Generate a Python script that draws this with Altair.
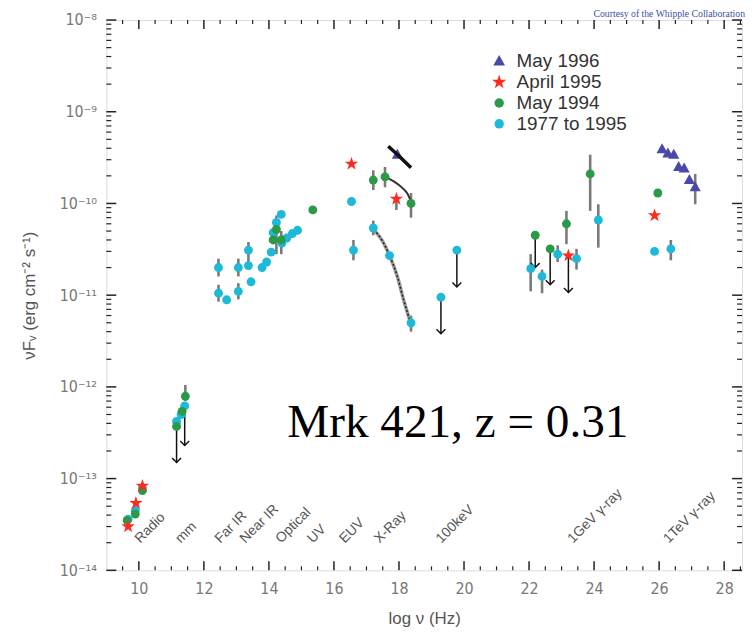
import altair as alt
import pandas as pd

# ---------------- data ----------------
series_order = ["May 1996", "April 1995", "May 1994", "1977 to 1995"]

may96_x = [17.95, 26.09, 26.27, 26.45, 26.60, 26.77, 26.93, 27.11]
may96_y = [3.4e-10, 3.9e-10, 3.5e-10, 3.4e-10, 2.5e-10, 2.4e-10, 1.8e-10, 1.5e-10]

apr95_x = [9.67, 9.91, 10.11, 16.54, 17.92, 23.21, 25.86]
apr95_y = [3.0e-14, 5.4e-14, 8.3e-14, 2.7e-10, 1.12e-10, 2.7e-11, 7.4e-11]

may94_x = [9.64, 9.89, 10.11, 11.16, 11.33, 11.43, 14.13, 14.23, 14.38, 15.35,
           17.21, 17.57, 18.37, 22.19, 22.65, 23.15, 23.88, 25.96]
may94_y = [3.5e-14, 4.1e-14, 7.4e-14, 3.7e-13, 5.4e-13, 7.9e-13, 4.0e-11, 5.2e-11, 4.0e-11, 8.5e-11,
           1.8e-10, 1.95e-10, 1.0e-10, 4.5e-11, 3.2e-11, 6.0e-11, 2.1e-10, 1.3e-10]

hist_x = [9.67, 9.89, 10.11, 11.16, 11.30, 11.41, 12.45, 12.45, 12.70, 13.06, 13.06,
          13.37, 13.37, 13.45, 13.79, 13.93, 14.07, 14.13, 14.23, 14.38, 14.40, 14.55,
          14.72, 14.88, 16.54, 16.60, 17.21, 17.71, 18.37, 19.29, 19.78, 22.05, 22.40,
          22.88, 23.46, 24.13, 25.86, 26.36]
hist_y = [3.6e-14, 4.5e-14, 7.9e-14, 4.2e-13, 5.0e-13, 6.2e-13, 2.0e-11, 1.05e-11, 8.9e-12, 2.0e-11, 1.1e-11,
          3.1e-11, 2.1e-11, 1.4e-11, 2.0e-11, 2.3e-11, 2.95e-11, 4.8e-11, 6.2e-11, 7.6e-11, 3.7e-11, 4.2e-11,
          4.7e-11, 5.1e-11, 1.05e-10, 3.1e-11, 5.4e-11, 2.7e-11, 5.0e-12, 9.5e-12, 3.1e-11, 1.95e-11, 1.6e-11,
          2.8e-11, 2.5e-11, 6.6e-11, 3.0e-11, 3.2e-11]

# error bars: x, low, high
err_x = [12.45, 12.45, 13.06, 13.06, 13.37, 14.23, 14.38, 11.43, 16.60, 17.21, 17.57, 18.37,
         17.92, 17.21, 18.37, 22.05, 22.40, 22.88, 23.15, 23.46, 23.88, 24.13, 26.36, 27.11]
err_lo = [1.6e-11, 8.5e-12, 1.6e-11, 9.0e-12, 1.9e-11, 2.8e-11, 2.8e-11, 7.0e-13, 2.4e-11, 1.4e-10, 1.5e-10, 7.0e-11,
          8.5e-11, 4.5e-11, 4.0e-12, 1.1e-11, 1.05e-11, 2.3e-11, 3.6e-11, 1.9e-11, 8.3e-11, 3.3e-11, 2.4e-11, 9.8e-11]
err_hi = [2.5e-11, 1.3e-11, 2.5e-11, 1.35e-11, 3.8e-11, 7.4e-11, 5.0e-11, 1.05e-12, 4.0e-11, 2.3e-10, 2.5e-10, 1.3e-10,
          1.2e-10, 6.5e-11, 6.0e-12, 2.8e-11, 1.9e-11, 3.5e-11, 8.3e-11, 3.2e-11, 3.4e-10, 9.8e-11, 4.0e-11, 2.1e-10]

# upper limits: x, value, arrow tip
ul_x = [11.16, 11.41, 19.29, 19.78, 22.19, 22.65, 23.21]
ul_from = [3.7e-13, 6.2e-13, 9.5e-12, 3.1e-11, 4.5e-11, 3.2e-11, 2.7e-11]
ul_to = [1.5e-13, 2.3e-13, 3.8e-12, 1.23e-11, 2.0e-11, 1.3e-11, 1.07e-11]

# X-ray spectral fits
fit96_x = [17.67, 18.00, 18.37]
fit96_y = [4.2e-10, 3.3e-10, 2.45e-10]
fit94_x = [17.57, 17.84, 18.10, 18.27, 18.37]
fit94_y = [1.95e-10, 1.74e-10, 1.48e-10, 1.26e-10, 1.05e-10]
fith_x = [17.23, 17.49, 17.71, 17.95, 18.15, 18.35]
fith_y = [5.2e-11, 3.9e-11, 2.7e-11, 1.6e-11, 8.7e-12, 5.1e-12]

# band labels
band_labels = ["Radio", "mm", "Far IR", "Near IR", "Optical", "UV", "EUV", "X-Ray",
               "100keV", "1GeV \u03b3-ray", "1TeV \u03b3-ray"]
band_x = [10.04, 11.29, 12.5, 13.27, 14.37, 15.35, 16.33, 17.4, 19.3, 23.35, 26.3]
band_y = 1.95e-14

# axis ticks
x_major = list(range(10, 29, 2))
x_minor = [v / 2 for v in range(19, 58) if v % 4 != 0]
y_major = [10.0 ** k for k in range(-14, -7)]
y_minor = [m * 10.0 ** k for k in range(-14, -8) for m in range(2, 10)]

# ---------------- build ----------------
W, H = 640, 554
FONT = "Liberation Sans"
NARROW = "Liberation Sans Narrow, DejaVu Sans Condensed, Liberation Sans"

xscale = alt.Scale(domain=[9, 28.55], nice=False, zero=False)
yscale = alt.Scale(type="log", domain=[1e-14, 1e-8], nice=False)

xaxis = alt.Axis(values=x_major, ticks=False, tickSize=0, domain=False, grid=False,
                 labelFont=NARROW, labelFontSize=16, labelColor="#777", labelPadding=10,
                 titleFont=FONT, titleFontSize=17, titleFontWeight="normal", titleColor="#555",
                 titleY=49, titleBaseline="middle")
ylab = ("datum.value < 5e-14 ? '10\u207b\u00b9\u2074' : datum.value < 5e-13 ? '10\u207b\u00b9\u00b3' : "
        "datum.value < 5e-12 ? '10\u207b\u00b9\u00b2' : datum.value < 5e-11 ? '10\u207b\u00b9\u00b9' : "
        "datum.value < 5e-10 ? '10\u207b\u00b9\u2070' : datum.value < 5e-9 ? '10\u207b\u2079' : '10\u207b\u2078'")
yaxis = alt.Axis(values=y_major, ticks=False, tickSize=0, domain=False, grid=False,
                 labelExpr=ylab, labelFont=NARROW, labelFontSize=16, labelColor="#777", labelPadding=10,
                 titleFont=FONT, titleFontSize=17, titleFontWeight="normal", titleColor="#555",
                 titleAngle=270, titleX=-77, titleY=H / 2, titleAlign="center", titleBaseline="middle")

X = alt.X("x:Q", scale=xscale, axis=xaxis, title="log \u03bd (Hz)")
Y = alt.Y("y:Q", scale=yscale, axis=yaxis, title="\u03bdF\u1d65 (erg cm\u207b\u00b2 s\u207b\u00b9)")

STAR = ("M0,-1.6L0.359,-0.494L1.522,-0.494L0.581,0.189L0.941,1.294L0,0.611"
        "L-0.941,1.294L-0.581,0.189L-1.522,-0.494L-0.359,-0.494Z")
TRI = "M0,-1.35L1.25,0.9L-1.25,0.9Z"

rows = []
for name, xs, ys in [("1977 to 1995", hist_x, hist_y), ("May 1994", may94_x, may94_y),
                     ("April 1995", apr95_x, apr95_y), ("May 1996", may96_x, may96_y)]:
    for a, b in zip(xs, ys):
        rows.append({"series": name, "x": a, "y": b})
pts = pd.DataFrame(rows)

leg = alt.Legend(title=None, orient="none", legendX=386, legendY=32, labelFont=FONT,
                 labelFontSize=19, labelColor="#333", rowPadding=1, labelOffset=8, padding=0,
                 symbolSize=90, symbolStrokeWidth=0)

points = alt.Chart(pts).mark_point(filled=True, opacity=1, size=80, strokeWidth=0).encode(
    x=X, y=Y,
    color=alt.Color("series:N", scale=alt.Scale(domain=series_order,
                    range=["#4b48a8", "#ff2a1e", "#2a9a48", "#1db9d9"]), legend=leg),
    shape=alt.Shape("series:N", scale=alt.Scale(domain=series_order,
                    range=[TRI, STAR, "circle", "circle"]), legend=leg),
)

errs = alt.Chart(pd.DataFrame({"x": err_x, "y": err_lo, "y2": err_hi})).mark_rule(
    color="#7a7a7a", strokeWidth=2.6).encode(x=X, y=Y, y2="y2:Q")

ul_df = pd.DataFrame({"x": ul_x, "y": ul_from, "y2": ul_to})
ul_lines = alt.Chart(ul_df).mark_rule(color="#111", strokeWidth=1.5).encode(x=X, y=Y, y2="y2:Q")
ul_heads = alt.Chart(pd.DataFrame({"x": ul_x, "y": ul_to})).mark_point(
    shape="M-1,-1L0,0L1,-1", filled=False, color="#111", strokeWidth=1.5, size=80, opacity=1
).encode(x=X, y=Y)

fit96 = alt.Chart(pd.DataFrame({"x": fit96_x, "y": fit96_y})).mark_line(
    color="#111", strokeWidth=3.5).encode(x=X, y=Y)
fit94 = alt.Chart(pd.DataFrame({"x": fit94_x, "y": fit94_y})).mark_line(
    color="#333", strokeWidth=2, interpolate="monotone").encode(x=X, y=Y)
fith_a = alt.Chart(pd.DataFrame({"x": fith_x, "y": fith_y})).mark_line(
    color="#999", strokeWidth=3.5, interpolate="monotone").encode(x=X, y=Y)
fith_b = alt.Chart(pd.DataFrame({"x": fith_x, "y": fith_y})).mark_line(
    color="#222", strokeWidth=1.5, strokeDash=[2, 2], interpolate="monotone").encode(x=X, y=Y)

bands = alt.Chart(pd.DataFrame({"x": band_x, "y": [band_y] * len(band_x), "t": band_labels})).mark_text(
    angle=315, align="left", baseline="alphabetic", font=FONT, fontSize=14, color="#555"
).encode(x=X, y=Y, text="t:N")

title_txt = alt.Chart(pd.DataFrame({"x": [19.81], "y": [2.82e-13], "t": ["Mrk 421, z = 0.31"]})).mark_text(
    align="center", baseline="alphabetic", font="Liberation Serif", fontSize=47.5, color="#000"
).encode(x=X, y=Y, text="t:N")

courtesy = alt.Chart(pd.DataFrame({"t": ["Courtesy of the Whipple Collaboration"]})).mark_text(
    align="right", baseline="middle", font="Liberation Serif", fontSize=9.8, color="#3a4fa5"
).encode(x=alt.value(W + 3), y=alt.value(-6), text="t:N")

TK = "#222"
tick_layers = [
    alt.Chart(pd.DataFrame({"x": x_major})).mark_rule(color=TK, strokeWidth=1.5).encode(
        x=X, y=alt.value(H), y2=alt.value(H - 9)),
    alt.Chart(pd.DataFrame({"x": x_minor})).mark_rule(color=TK, strokeWidth=1.2).encode(
        x=X, y=alt.value(H), y2=alt.value(H - 4)),
    alt.Chart(pd.DataFrame({"x": x_major})).mark_rule(color=TK, strokeWidth=1.5).encode(
        x=X, y=alt.value(0), y2=alt.value(9)),
    alt.Chart(pd.DataFrame({"x": x_minor})).mark_rule(color=TK, strokeWidth=1.2).encode(
        x=X, y=alt.value(0), y2=alt.value(4)),
    alt.Chart(pd.DataFrame({"y": y_major})).mark_rule(color=TK, strokeWidth=1.5).encode(
        y=Y, x=alt.value(0), x2=alt.value(10)),
    alt.Chart(pd.DataFrame({"y": y_minor})).mark_rule(color=TK, strokeWidth=1.2).encode(
        y=Y, x=alt.value(0), x2=alt.value(5)),
    alt.Chart(pd.DataFrame({"y": y_major})).mark_rule(color=TK, strokeWidth=1.5).encode(
        y=Y, x=alt.value(W), x2=alt.value(W - 10)),
    alt.Chart(pd.DataFrame({"y": y_minor})).mark_rule(color=TK, strokeWidth=1.2).encode(
        y=Y, x=alt.value(W), x2=alt.value(W - 5)),
]

chart = alt.layer(
    *tick_layers, errs, fith_a, fith_b, fit94, ul_lines, ul_heads, points, fit96,
    bands, title_txt, courtesy
).properties(
    width=W, height=H,
    padding={"left": 99, "top": 10, "right": 5, "bottom": 60},
    autosize=alt.AutoSizeParams(type="none"),
).configure_view(stroke="#111", strokeWidth=2.5).configure(background="white")

chart.save("out.html", embed_options={"renderer": "svg", "actions": False})
